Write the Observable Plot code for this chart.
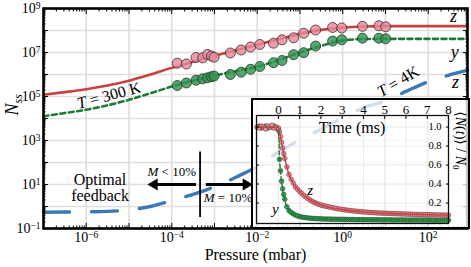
<!DOCTYPE html>
<html><head><meta charset="utf-8">
<script src="https://cdn.jsdelivr.net/npm/d3@7"></script>
<script src="https://cdn.jsdelivr.net/npm/@observablehq/plot@0.6"></script>
<style>
body{margin:0;background:#fff;}
#wrap{position:relative;width:471px;height:267px;}
#inset{position:absolute;left:251px;top:98px;width:219px;height:131px;border:2.5px solid #000;box-sizing:border-box;background:rgba(255,255,255,0.76);}
#inset svg{position:absolute;left:0;top:0;}
</style></head><body>
<div id="wrap"><div id="main"></div><div id="inset"></div></div>
<script>
const FONT = '"Liberation Serif","DejaVu Serif",serif';

// ---------- main chart data ----------
const pointPressure = [1.35e-4, 2.2e-4, 3.7e-4, 5.3e-4, 6.9e-4, 8.5e-4, 9.8e-4, 2.35e-3, 4.2e-3, 7.0e-3, 1.15e-2, 2.4e-2, 3.8e-2, 7.1e-2, 0.122, 0.232, 0.58, 0.95, 2.9, 7.0, 10.1];
const pointZ300 = [3.27e6, 3.0e6, 5.9e6, 5.7e6, 8.1e6, 6.9e6, 6.1e6, 9.5e6, 1.30e7, 1.78e7, 2.31e7, 2.65e7, 3.78e7, 4.66e7, 7.5e7, 1.05e8, 1.37e8, 1.30e8, 1.55e8, 1.64e8, 1.47e8];
const pointY300 = [3.16e5, 4.11e5, 5.51e5, 6.38e5, 7.08e5, 7.94e5, 8.51e5, 1.0e6, 1.27e6, 1.72e6, 2.31e6, 3.44e6, 4.32e6, 7.94e6, 9.8e6, 1.97e7, 3.31e7, 3.78e7, 4.47e7, 4.47e7, 4.2e7];

const curvePressure = [1e-7, 3.16e-7, 1e-6, 3.16e-6, 1e-5, 3.16e-5, 1e-4, 3.16e-4, 1e-3, 3.16e-3, 1e-2, 3.16e-2, 0.1, 0.316, 1, 3.16, 10, 31.6, 100, 316, 830];
const curveZ300 = [1.2e5, 1.58e5, 2.14e5, 3.16e5, 5.25e5, 1.0e6, 2.0e6, 3.8e6, 7.08e6, 1.26e7, 2.24e7, 3.98e7, 7.08e7, 1.07e8, 1.35e8, 1.51e8, 1.58e8, 1.58e8, 1.58e8, 1.58e8, 1.58e8];
const curveY300 = [1.26e4, 1.78e4, 2.51e4, 3.98e4, 7.08e4, 1.41e5, 2.82e5, 5.25e5, 8.91e5, 1.41e6, 2.24e6, 4.47e6, 1.0e7, 2.0e7, 3.55e7, 4.07e7, 4.17e7, 4.17e7, 4.17e7, 4.17e7, 4.17e7];
const curveZ4 = [0.55, 0.56, 0.575, 0.60, 0.71, 1.0, 1.86, 3.55, 7.94, 21.4, 66.1, 302, 1050, 3310, 1.07e4, 3.16e4, 6.31e4, 1.78e5, 4.68e5, 9.55e5, 1.58e6];

const xTicks = [1e-6, 1e-4, 1e-2, 1, 1e2];
const xTickLabels = ["10^-6", "10^-4", "10^-2", "10^0", "10^2"];
const yTicks = [1e-1, 1e1, 1e3, 1e5, 1e7, 1e9];
const yTickLabels = ["10^-1", "10^1", "10^3", "10^5", "10^7", "10^9"];
const xDecades = [1e-7, 1e-6, 1e-5, 1e-4, 1e-3, 1e-2, 1e-1, 1, 10, 100];
const yDecades = [1e-1, 1, 10, 1e2, 1e3, 1e4, 1e5, 1e6, 1e7, 1e8, 1e9];

// annotations
const boundaryP = 4.6e-4, boundaryY1 = 300, boundaryY2 = 0.32;
const arrowsData = [
  {from: 3.7e-4, shaftTo: 3.6e-5, tip: 2.75e-5, y: 10},
  {from: 6.3e-4, shaftTo: 5.9e-3, tip: 7.8e-3, y: 10}
];

// ---------- inset data ----------
const insetTimes = [-1.0,-0.9,-0.8,-0.7,-0.6,-0.5,-0.4,-0.3,-0.2,-0.1,
  0.0,0.05,0.1,0.15,0.2,0.25,0.3,0.4,0.5,0.6,0.7,0.8,0.9,1.0,1.1,1.2,1.3,1.4,1.5,1.6,1.7,1.8,1.9,2.0,
  2.1,2.2,2.3,2.4,2.5,2.6,2.7,2.8,2.9,3.0,
  3.1,3.2,3.3,3.4,3.5,3.6,3.7,3.8,3.9,4.0,
  4.1,4.2,4.3,4.4,4.5,4.6,4.7,4.8,4.9,5.0,
  5.1,5.2,5.3,5.4,5.5,5.6,5.7,5.8,5.9,6.0,
  6.1,6.2,6.3,6.4,6.5,6.6,6.7,6.8,6.9,7.0,
  7.1,7.2,7.3,7.4,7.5,7.6,7.7,7.8,7.9,8.0];
const insetZ = [1.00,0.99,1.01,1.00,0.98,1.01,1.00,1.02,0.99,1.00,
  0.99,0.95,0.90,0.84,0.78,0.72,0.67,0.58,0.50,0.45,0.41,0.37,0.345,0.32,0.30,0.28,0.262,0.245,0.23,0.216,0.205,0.195,0.186,0.178,
  0.172,0.167,0.163,0.157,0.153,0.148,0.144,0.139,0.136,0.131,
  0.129,0.125,0.122,0.120,0.116,0.115,0.112,0.110,0.108,0.106,
  0.105,0.102,0.101,0.099,0.098,0.097,0.095,0.094,0.093,0.092,
  0.091,0.090,0.089,0.088,0.087,0.087,0.086,0.085,0.084,0.083,
  0.083,0.082,0.081,0.080,0.080,0.079,0.078,0.078,0.077,0.077,
  0.076,0.076,0.075,0.075,0.074,0.074,0.073,0.073,0.072,0.072];
const insetY = [1.00,1.01,0.99,1.00,1.01,0.99,1.00,1.00,1.01,0.99,
  0.97,0.66,0.54,0.43,0.35,0.29,0.24,0.16,0.12,0.10,0.085,0.073,0.064,0.057,0.052,0.048,0.045,0.042,0.040,0.038,0.036,0.035,0.034,0.033,
  0.032,0.031,0.031,0.030,0.030,0.029,0.029,0.028,0.028,0.028,
  0.027,0.027,0.026,0.026,0.026,0.025,0.025,0.025,0.025,0.024,
  0.024,0.024,0.024,0.023,0.023,0.023,0.023,0.023,0.022,0.022,
  0.022,0.022,0.022,0.021,0.021,0.021,0.021,0.021,0.021,0.020,
  0.020,0.020,0.020,0.020,0.020,0.020,0.020,0.020,0.020,0.020,
  0.020,0.019,0.019,0.019,0.019,0.019,0.019,0.019,0.019,0.019];
const fitZT = [-1.03, 0, 0.1, 0.25, 0.5, 0.75, 1, 1.5, 2, 3, 4, 5, 6, 7, 8];
const fitZV = [1, 1, 0.9, 0.72, 0.5, 0.39, 0.32, 0.23, 0.178, 0.131, 0.106, 0.092, 0.083, 0.077, 0.072];
const fitYT = [-1.03, 0, 0.05, 0.1, 0.2, 0.3, 0.5, 0.75, 1, 1.5, 2, 4, 8];
const fitYV = [1, 1, 0.68, 0.53, 0.34, 0.23, 0.12, 0.078, 0.057, 0.04, 0.033, 0.024, 0.019];
const insetTimeTicks = [0,1,2,3,4,5,6,7,8];
const insetTimeLabels = ["0","1","2","3","4","5","6","7","8"];
const insetYTicks = [0.2,0.4,0.6,0.8,1.0];
const insetYLabels = ["0.2","0.4","0.6","0.8","1.0"];

// ---------- colours ----------
const RED = "#c8403f", GREEN = "#1f7a33", BLUE = "#3d77b4";

const points = pointPressure.map((p, i) => ({p, z: pointZ300[i], y: pointY300[i]}));
const curves = curvePressure.map((p, i) => ({p, z: curveZ300[i], y: curveY300[i], b: curveZ4[i]}));

const minorX = [], minorY = [];
for (let e = -7; e <= 2; e++) for (let m = 2; m <= 9; m++) { const v = m * Math.pow(10, e); if (v <= 830) minorX.push(v); }
for (let e = -1; e <= 8; e++) for (let m = 2; m <= 9; m++) minorY.push(m * Math.pow(10, e));
const blank = () => "";

const main = Plot.plot({
  width: 471, height: 267,
  marginTop: 8, marginRight: 4, marginBottom: 39, marginLeft: 43,
  x: {type: "log", domain: [1e-7, 830]},
  y: {type: "log", domain: [0.1, 1e9]},
  style: {fontFamily: FONT, fontSize: "14px", background: "transparent", color: "#000", overflow: "visible"},
  marks: [
    Plot.gridX({ticks: xDecades, stroke: "#dedede", strokeOpacity: 1, strokeWidth: 1.6}),
    Plot.gridY({ticks: yDecades, stroke: "#dedede", strokeOpacity: 1, strokeWidth: 1.6}),
    Plot.line(curves, {x: "p", y: "b", stroke: BLUE, strokeWidth: 3.4, strokeDasharray: "26,22", curve: "monotone-x"}),
    Plot.line(curves, {x: "p", y: "z", stroke: RED, strokeWidth: 2.6, curve: "monotone-x"}),
    Plot.line(curves, {x: "p", y: "y", stroke: GREEN, strokeWidth: 2.6, strokeDasharray: "5,3.5", curve: "monotone-x"}),
    Plot.dot(points, {x: "p", y: "y", r: 5, fill: "#2f9450", fillOpacity: 0.82, stroke: "#263326", strokeWidth: 0.8}),
    Plot.dot(points, {x: "p", y: "z", r: 5, fill: "#e6899a", fillOpacity: 0.82, stroke: "#3d2a2d", strokeWidth: 0.8}),
    // boundary + arrows
    Plot.ruleX([boundaryP], {y1: boundaryY1, y2: boundaryY2, stroke: "#000", strokeWidth: 1.8}),
    Plot.link(arrowsData, {x1: "from", x2: "shaftTo", y1: "y", y2: "y", stroke: "#000", strokeWidth: 3.2}),
    Plot.dot(arrowsData.slice(0, 1), {x: "tip", y: "y", dx: 6.5, symbol: "triangle", r: 4.4, fill: "#000", stroke: "none", rotate: -90}),
    Plot.dot(arrowsData.slice(1), {x: "tip", y: "y", dx: -6.5, symbol: "triangle", r: 4.4, fill: "#000", stroke: "none", rotate: 90}),
    Plot.text(["M < 10%"], {x: 3.7e-4, y: 36, textAnchor: "end", fontSize: 13}),
    Plot.text(["M = 10%"], {x: 5.6e-4, y: 2.57, textAnchor: "start", fontSize: 13}),
    Plot.text(["Optimal"], {x: 2.1e-6, y: 17, fontSize: 16}),
    Plot.text(["feedback"], {x: 2.1e-6, y: 3.2, fontSize: 16}),
    Plot.text(["T = 300 K"], {x: 3.4e-6, y: 1.12e5, rotate: -15, fontSize: 16}),
    Plot.text(["T = 4K"], {x: 19.8, y: 4.8e5, rotate: -31, fontSize: 16}),
    Plot.text(["z"], {x: 390, y: 4.3e8, fontSize: 18, fontStyle: "italic"}),
    Plot.text(["y"], {x: 415, y: 1e7, fontSize: 18, fontStyle: "italic"}),
    Plot.text(["z"], {x: 437, y: 4.37e5, fontSize: 18, fontStyle: "italic"}),
    // axes
    Plot.axisX({ticks: xDecades, anchor: "bottom", tickSize: -5, tickFormat: blank, label: null}),
    Plot.axisX({ticks: minorX, anchor: "bottom", tickSize: -2.5, tickFormat: blank, label: null}),
    Plot.axisX({ticks: xDecades, anchor: "top", tickSize: -5, tickFormat: blank, label: null}),
    Plot.axisX({ticks: minorX, anchor: "top", tickSize: -2.5, tickFormat: blank, label: null}),
    Plot.axisY({ticks: yDecades, anchor: "left", tickSize: -5, tickFormat: blank, label: null}),
    Plot.axisY({ticks: minorY, anchor: "left", tickSize: -2.5, tickFormat: blank, label: null}),
    Plot.axisY({ticks: yDecades, anchor: "right", tickSize: -5, tickFormat: blank, label: null}),
    Plot.axisY({ticks: minorY, anchor: "right", tickSize: -2.5, tickFormat: blank, label: null}),
    Plot.axisX({ticks: xTicks, anchor: "bottom", tickSize: 0, tickPadding: 4, fontSize: 14, label: null,
      tickFormat: d => xTickLabels[xTicks.indexOf(d)]}),
    Plot.axisY({ticks: yTicks, anchor: "left", tickSize: 0, tickPadding: 3, fontSize: 14, label: null,
      tickFormat: d => yTickLabels[yTicks.indexOf(d)]}),
    Plot.text(["Pressure (mbar)"], {frameAnchor: "bottom", dy: 31.5, fontSize: 16}),
    Plot.text(["Nss"], {frameAnchor: "left", dx: -31, dy: -3, rotate: -90, fontSize: 18}),
    Plot.frame({stroke: "#000", strokeWidth: 2.6})
  ]
});
document.getElementById("main").appendChild(main);

const insetData = insetTimes.map((t, i) => ({t, z: insetZ[i], y: insetY[i]}));
const fitZ = fitZT.map((t, i) => ({t, v: fitZV[i]}));
const fitY = fitYT.map((t, i) => ({t, v: fitYV[i]}));

const inset = Plot.plot({
  width: 214, height: 126,
  marginLeft: 3, marginRight: 19, marginTop: 15, marginBottom: 3,
  x: {domain: [-1.03, 8]},
  y: {domain: [-0.016, 1.122]},
  style: {fontFamily: FONT, fontSize: "12px", background: "transparent", color: "#000", overflow: "visible"},
  marks: [
    Plot.gridX({ticks: insetTimeTicks, stroke: "#e4e4e4", strokeOpacity: 1, strokeWidth: 0.8}),
    Plot.gridY({ticks: insetYTicks, stroke: "#e4e4e4", strokeOpacity: 1, strokeWidth: 0.8}),
    Plot.dot(insetData, {x: "t", y: "y", r: 2.3, fill: "#3f9d5c", stroke: "#1b5a2b", strokeWidth: 0.7}),
    Plot.dot(insetData, {x: "t", y: "z", r: 2.3, fill: "#e79aa6", stroke: "#93343f", strokeWidth: 0.7}),
    Plot.line(fitY, {x: "t", y: "v", stroke: GREEN, strokeWidth: 1.4, strokeDasharray: "4,2.5", curve: "monotone-x"}),
    Plot.line(fitZ, {x: "t", y: "v", stroke: RED, strokeWidth: 1.4, curve: "monotone-x"}),
    Plot.text(["Time (ms)"], {x: 3.46, y: 0.987, fontSize: 16}),
    Plot.text(["z"], {x: 1.5, y: 0.34, fontSize: 15, fontStyle: "italic"}),
    Plot.text(["y"], {x: -0.14, y: 0.13, fontSize: 15, fontStyle: "italic"}),
    Plot.axisX({ticks: insetTimeTicks, anchor: "top", tickSize: -3, tickPadding: 5, fontSize: 13, label: null,
      tickFormat: d => insetTimeLabels[insetTimeTicks.indexOf(d)]}),
    Plot.axisY({ticks: insetYTicks, anchor: "right", tickSize: -3, tickPadding: -4, textAnchor: "end", fontSize: 10.5, label: null,
      tickFormat: d => insetYLabels[insetYTicks.indexOf(d)]}),
    Plot.axisY({ticks: insetYTicks, anchor: "left", tickSize: -3, tickFormat: blank, label: null}),
    Plot.text(["N(t)/N0"], {frameAnchor: "right", dx: 12, rotate: 90, fontSize: 14}),
    Plot.frame({stroke: "#111", strokeWidth: 1.3})
  ]
});
document.getElementById("inset").appendChild(inset);

// ---------- rich text (italics, sub/superscripts) ----------
function rich(svg, content, parts) {
  d3.select(svg).selectAll("text").filter(function() { return this.textContent === content; }).each(function() {
    const t = d3.select(this);
    t.text(null);
    for (const [s, o] of parts) {
      const ts = t.append("tspan").text(s);
      if (o && o.i) ts.attr("font-style", "italic");
      if (o && o.dy) ts.attr("dy", o.dy);
      if (o && o.fs) ts.attr("font-size", o.fs);
    }
  });
}
rich(main, "Nss", [["N", {i: 1}], ["ss", {i: 1, dy: 4, fs: 12}]]);
rich(main, "T = 300 K", [["T", {i: 1}], [" = 300 K"]]);
rich(main, "T = 4K", [["T", {i: 1}], [" = 4K"]]);
rich(main, "M < 10%", [["M", {i: 1}], [" < 10%"]]);
rich(main, "M = 10%", [["M", {i: 1}], [" = 10%"]]);
rich(inset, "N(t)/N0", [["\u27E8"], ["N", {i: 1}], ["("], ["t", {i: 1}], [")\u27E9 / "], ["N", {i: 1}], ["0", {dy: 3, fs: 9}]]);

d3.select(main).selectAll("text").each(function() {
  const m = this.textContent.match(/^10\^(-?\d+)$/);
  if (!m) return;
  const t = d3.select(this);
  t.text(null);
  t.append("tspan").text("10");
  t.append("tspan").attr("dy", "-0.45em").attr("font-size", "0.68em").text(m[1].replace("-", "\u2212"));
});
</script>
</body></html>
